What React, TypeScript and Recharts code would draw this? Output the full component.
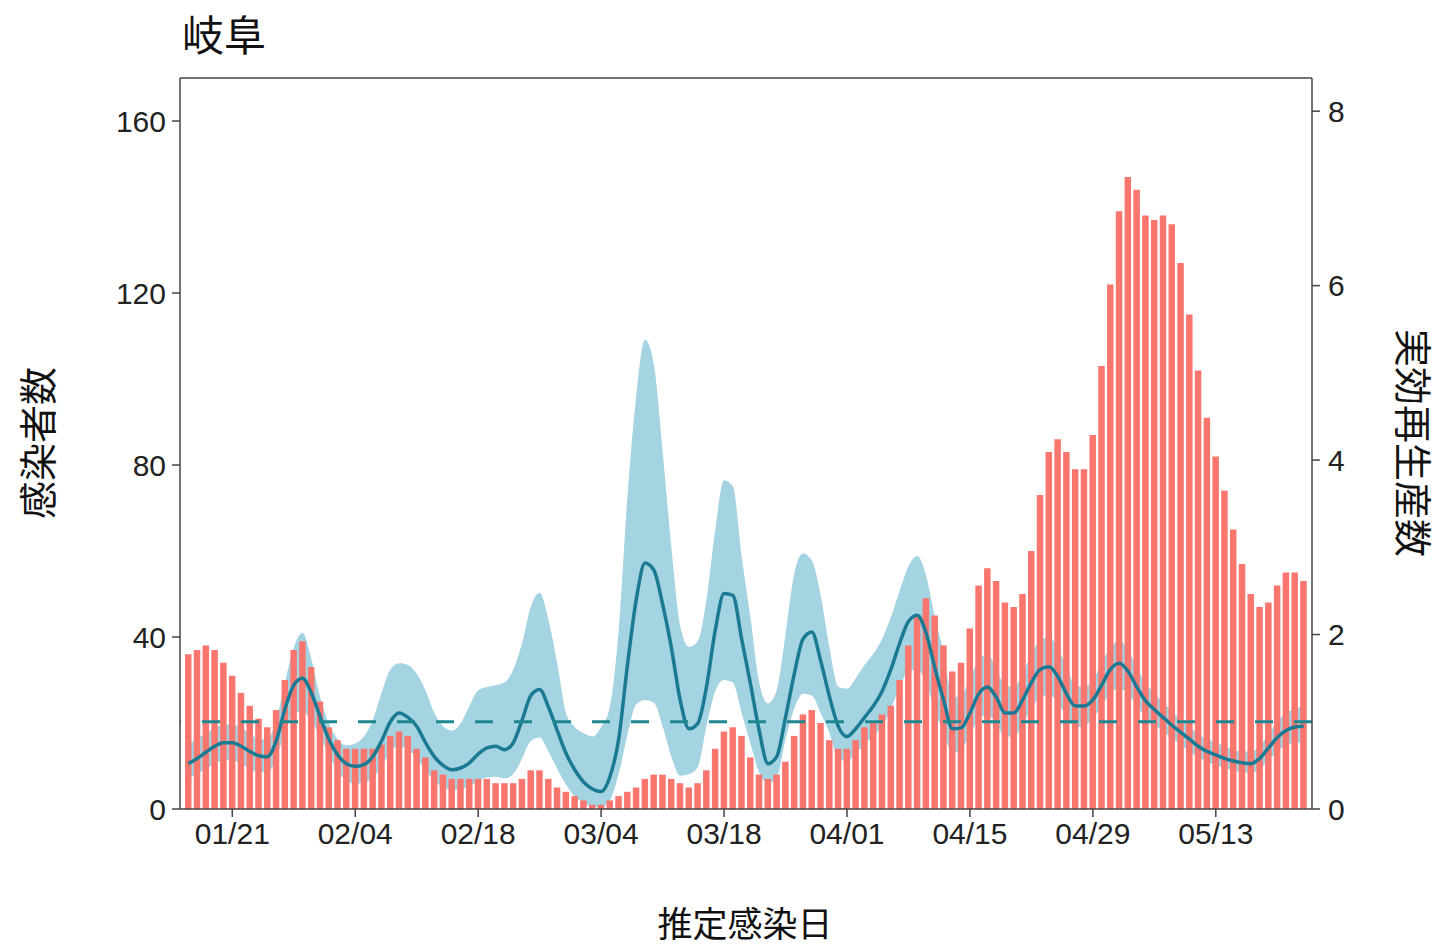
import { ComposedChart, Bar, Area, Line, XAxis, YAxis, ReferenceLine } from "recharts";

// daily estimated infections, 01/16 .. 05/23
const CASES = [
  36, 37, 38, 37, 34, 31, 27, 24, 21, 19,
  23, 30, 37, 39, 33, 25, 19, 16, 14, 14,
  14, 14, 15, 17, 18, 17, 14, 12, 9, 8,
  7, 7, 7, 7, 7, 6, 6, 6, 7, 9,
  9, 7, 5, 4, 3, 2, 1, 1, 2, 3,
  4, 5, 7, 8, 8, 7, 6, 5, 6, 9,
  14, 18, 19, 17, 12, 8, 7, 8, 11, 17,
  22, 23, 20, 16, 14, 14, 16, 19, 20, 22,
  24, 30, 38, 45, 49, 45, 38, 32, 34, 42,
  52, 56, 53, 48, 47, 50, 60, 73, 83, 86,
  83, 79, 79, 87, 103, 122, 139, 147, 144, 138,
  137, 138, 136, 127, 115, 102, 91, 82, 74, 65,
  57, 50, 47, 48, 52, 55, 55, 53,
];

// effective reproduction number (median)
const RT = [
  0.52, 0.58, 0.65, 0.72, 0.76, 0.76, 0.72, 0.66, 0.61, 0.6,
  0.78, 1.15, 1.42, 1.5, 1.33, 1.06, 0.8, 0.62, 0.52, 0.49,
  0.51, 0.6, 0.78, 1.0, 1.1, 1.05, 0.95, 0.76, 0.6, 0.5,
  0.45, 0.47, 0.53, 0.63, 0.7, 0.72, 0.68, 0.76, 1.02, 1.3,
  1.37, 1.17, 0.9, 0.64, 0.45, 0.31, 0.23, 0.2, 0.37, 0.8,
  1.65, 2.4, 2.82, 2.74, 2.35, 1.85, 1.25, 0.92, 0.98, 1.4,
  2.05, 2.47, 2.45, 1.95, 1.44, 0.9, 0.52, 0.6, 1.05, 1.55,
  1.95, 2.03, 1.7, 1.29, 0.95, 0.83, 0.92, 1.05, 1.18, 1.35,
  1.6, 1.9, 2.15, 2.22, 2.02, 1.62, 1.25, 0.92, 0.93, 1.1,
  1.32, 1.4, 1.28, 1.1, 1.1, 1.25, 1.45, 1.6, 1.63, 1.52,
  1.32, 1.18, 1.18, 1.25, 1.42, 1.6, 1.67, 1.58, 1.4, 1.24,
  1.14, 1.05, 0.96, 0.88, 0.8, 0.72, 0.66, 0.62, 0.58, 0.55,
  0.53, 0.52, 0.58, 0.7, 0.82, 0.9, 0.94, 0.95,
];

const RT_UPPER = [
  0.75, 0.8, 0.87, 0.93, 0.97, 0.97, 0.93, 0.87, 0.8, 0.8,
  1.02, 1.45, 1.85, 2.02, 1.72, 1.28, 0.98, 0.8, 0.73, 0.75,
  0.83, 1.02, 1.33, 1.6, 1.67, 1.65, 1.55, 1.36, 1.1, 0.95,
  0.9, 0.98, 1.18, 1.36, 1.4, 1.42, 1.45, 1.6, 1.9, 2.32,
  2.48, 2.17, 1.67, 1.1, 0.94, 0.87, 0.83, 0.94, 1.17, 2.05,
  3.58, 4.73, 5.38, 5.1, 4.1, 3.0, 2.1, 1.86, 1.92, 2.4,
  3.2, 3.77, 3.7, 2.9, 2.2, 1.45, 1.21, 1.36, 2.0, 2.7,
  2.93, 2.85, 2.45, 1.85, 1.4, 1.38, 1.5, 1.65, 1.78, 1.95,
  2.2, 2.5, 2.78, 2.9, 2.68, 2.2, 1.8, 1.28, 1.3, 1.5,
  1.7, 1.78, 1.6, 1.42, 1.4, 1.55, 1.78, 1.93, 1.97, 1.85,
  1.62, 1.42, 1.4, 1.48, 1.68, 1.85, 1.93, 1.83, 1.62, 1.45,
  1.32, 1.22, 1.12, 1.03, 0.95, 0.86, 0.8, 0.76, 0.72, 0.68,
  0.66, 0.66, 0.72, 0.86, 1.0, 1.1, 1.15, 1.18,
];

const RT_LOWER = [
  0.36, 0.4, 0.46, 0.52, 0.56, 0.56, 0.52, 0.46, 0.42, 0.42,
  0.58, 0.88, 1.1, 1.12, 1.0, 0.84, 0.62, 0.44, 0.32, 0.29,
  0.3, 0.36, 0.48, 0.66, 0.72, 0.68, 0.58, 0.44, 0.32, 0.25,
  0.22, 0.23, 0.26, 0.32, 0.36, 0.37, 0.35, 0.4, 0.58, 0.78,
  0.82, 0.66, 0.46, 0.28, 0.14, 0.07, 0.03, 0.02, 0.1, 0.4,
  0.85, 1.2, 1.25, 1.22, 0.95, 0.6, 0.38, 0.4, 0.48, 0.95,
  1.35, 1.48, 1.45, 1.1, 0.75, 0.42, 0.29, 0.36, 0.8, 1.15,
  1.32, 1.3, 1.1, 0.87, 0.58, 0.55, 0.64, 0.74, 0.84, 0.95,
  1.15, 1.4, 1.58, 1.6, 1.45, 1.12, 0.88, 0.64, 0.68, 0.85,
  1.02, 1.08, 0.98, 0.83, 0.83, 0.97, 1.15, 1.28, 1.31, 1.22,
  1.05, 0.94, 0.95, 1.04, 1.18, 1.33, 1.38, 1.32, 1.18, 1.05,
  0.97, 0.89, 0.81, 0.74, 0.66, 0.59, 0.54, 0.5, 0.47, 0.44,
  0.42, 0.41, 0.46, 0.56, 0.66, 0.73, 0.76, 0.76,
];

const X_TICKS = ["01/21", "02/04", "02/18", "03/04", "03/18", "04/01", "04/15", "04/29", "05/13"];
const LEFT_TICKS = [0, 40, 80, 120, 160];
const RIGHT_TICKS = [0, 2, 4, 6, 8];

const START = new Date(2021, 0, 16);
const pad = (n: number) => String(n).padStart(2, "0");
const dates = CASES.map((_, i) => {
  const d = new Date(START.getFullYear(), START.getMonth(), START.getDate() + i);
  return `${pad(d.getMonth() + 1)}/${pad(d.getDate())}`;
});

const data = dates.map((date, i) => ({
  date,
  cases: CASES[i],
  rt: RT[i],
  band: [RT_LOWER[i], RT_UPPER[i]],
}));

const AXIS = "#444";
const TICK_FONT = { fontFamily: "'Liberation Sans', Arial, sans-serif", fontSize: 30, fill: "#222" };
const CJK = "'Noto Sans CJK JP', sans-serif";

const App = () => {
  return (
    <div style={{ position: "absolute", left: 0, top: 0, width: 1441, height: 947, background: "#fff" }}>
      <ComposedChart
        width={1441}
        height={947}
        data={data}
        margin={{ top: 78, right: 49, bottom: 78, left: 100 }}
      >
        <XAxis
          dataKey="date"
          ticks={X_TICKS}
          interval={0}
          padding={{ left: 4, right: 4 }}
          height={60}
          stroke={AXIS}
          strokeWidth={1.5}
          tickSize={8}
          tickMargin={6}
          tick={TICK_FONT}
        />
        <YAxis
          yAxisId="left"
          domain={[0, 170]}
          ticks={LEFT_TICKS}
          width={80}
          stroke={AXIS}
          strokeWidth={1.5}
          tickSize={8}
          tickMargin={6}
          tick={TICK_FONT}
          allowDataOverflow
        />
        <YAxis
          yAxisId="right"
          orientation="right"
          domain={[0, 8.38]}
          ticks={RIGHT_TICKS}
          width={80}
          stroke={AXIS}
          strokeWidth={1.5}
          tickSize={8}
          tickMargin={8}
          tick={TICK_FONT}
          allowDataOverflow
        />
        <Bar yAxisId="left" dataKey="cases" fill="#F8766D" barSize={6.5} isAnimationActive={false} />
        <Area
          yAxisId="right"
          type="monotone"
          dataKey="band"
          fill="#4AA8C4"
          fillOpacity={0.5}
          stroke="none"
          isAnimationActive={false}
        />
        <Line
          yAxisId="right"
          type="monotone"
          dataKey="rt"
          stroke="#1B7A93"
          strokeWidth={3.5}
          dot={false}
          isAnimationActive={false}
        />
        <ReferenceLine yAxisId="right" y={1} stroke="#1F8790" strokeWidth={3} strokeDasharray="18 21" />
        <ReferenceLine yAxisId="left" y={170} stroke={AXIS} strokeWidth={1.5} />
      </ComposedChart>
      <svg
        width={1441}
        height={947}
        style={{ position: "absolute", left: 0, top: 0, pointerEvents: "none" }}
      >
        <text x={182} y={32} fontFamily={CJK} fontSize={42} fill="#111" dominantBaseline="central">
          岐阜
        </text>
        <text
          x={35}
          y={443}
          fontFamily={CJK}
          fontSize={38}
          fill="#111"
          textAnchor="middle"
          dominantBaseline="central"
          transform="rotate(-90, 35, 443)"
        >
          感染者数
        </text>
        <text
          x={1415}
          y={443}
          fontFamily={CJK}
          fontSize={38}
          fill="#111"
          textAnchor="middle"
          dominantBaseline="central"
          transform="rotate(90, 1415, 443)"
        >
          実効再生産数
        </text>
        <text
          x={745}
          y={921}
          fontFamily={CJK}
          fontSize={35}
          fill="#111"
          textAnchor="middle"
          dominantBaseline="central"
        >
          推定感染日
        </text>
      </svg>
    </div>
  );
};

export default App;
